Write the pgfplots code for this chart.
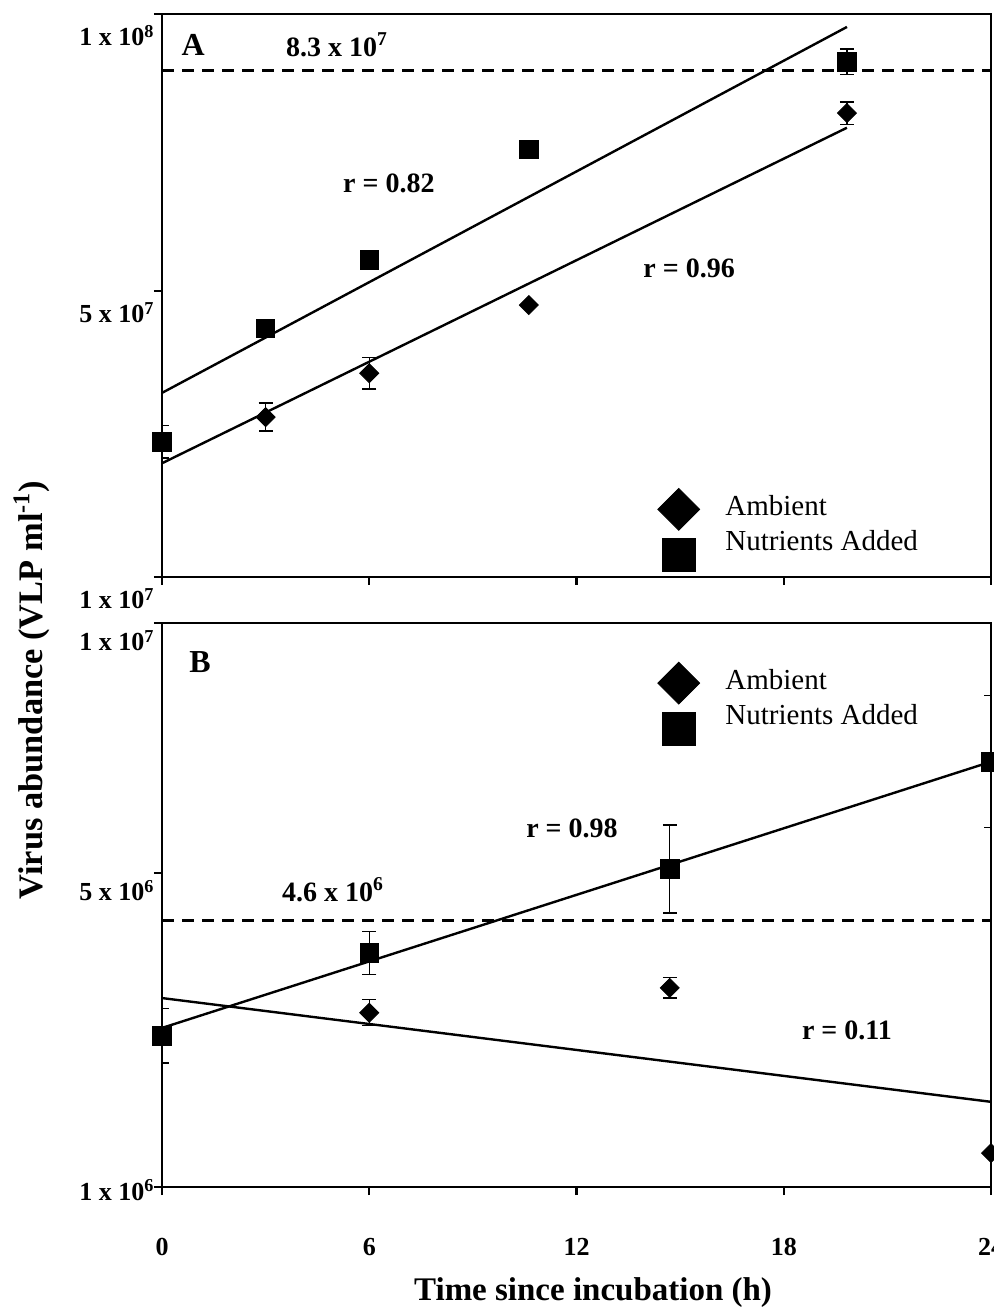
\documentclass[border=0pt]{standalone}
\usepackage{pgfplots}
\pgfplotsset{compat=1.18}
\usepackage{fontspec}
\setmainfont{Liberation Serif}

\newcommand{\sci}[2]{#1 x 10\textsuperscript{#2}}
\newcommand{\fs}[1]{\fontsize{#1}{#1}\selectfont}

\pgfplotsset{
  panel/.style={
    scale only axis, width=414.5pt,
    xmin=0, xmax=24, ymin=0, ymax=10,
    axis line style={line width=1.3pt},
    tick style={line width=1.2pt, black},
    major tick length=4pt,
    tick align=outside,
    tick pos=left,
    xtick={0,6,12,18,24},
    tick label style={font=\fs{13}\bfseries},
    yticklabel style={anchor=base east, inner sep=0pt, xshift=0.5pt, yshift=-16pt},
    legend cell align=left,
    legend style={draw=none, fill=none, font=\fs{14.5}, row sep=2pt},
  },
  errs/.style={
    error bars/y dir=both, error bars/y explicit,
    error bars/error bar style={line width=0.7pt, black},
    error bars/error mark options={rotate=90, line width=0.7pt, mark size=3.5pt, black}},
  amb/.style={only marks, mark=square*, mark size=3.36pt,
    mark options={rotate=45, fill=black, draw=black}, errs, forget plot},
  nut/.style={only marks, mark=square*, mark size=4.6pt,
    mark options={fill=black, draw=black}, errs, forget plot},
  fit/.style={black, line width=1.2pt, forget plot},
  ref/.style={black, line width=1.4pt, dash pattern=on 6pt off 4pt, forget plot},
  legamb/.style={legend image code/.code={%
    \begin{pgfinterruptboundingbox}
    \fill[black] plot[mark=square*, mark size=7.4pt, mark options={rotate=45}] coordinates {(0.3cm,-1.2pt)};
    \end{pgfinterruptboundingbox}
    \path[draw=none, fill=none] (0,-3pt) rectangle (1.05cm,3pt);}},
  legnut/.style={legend image code/.code={%
    \begin{pgfinterruptboundingbox}
    \fill[black] plot[mark=square*, mark size=8.25pt] coordinates {(0.3cm,-6.4pt)};
    \end{pgfinterruptboundingbox}
    \path[draw=none, fill=none] (0,-3pt) rectangle (1.05cm,3pt);}},
}

\begin{document}
\begin{tikzpicture}
\path[use as bounding box] (0,0) rectangle (497pt,653.5pt);

% Panel A
\begin{axis}[panel, at={(81pt,365pt)}, height=281.5pt,
    xticklabels={},
    ytick={0,5.08,10},
    yticklabels={\sci{1}{7}, \sci{5}{7}, \sci{1}{8}},
    legend style={at={(0.595,0.16)}, anchor=north west},
  ]
  \addlegendimage{legamb}
  \addlegendentry{Ambient}
  \addlegendimage{legnut}
  \addlegendentry{Nutrients Added}

  \addplot[ref] coordinates {(0,8.99) (24,8.99)};
  \addplot[fit] coordinates {(0,3.27) (19.83,9.77)};
  \addplot[fit] coordinates {(0,2.02) (19.83,7.98)};

  \addplot[amb] coordinates {
    (3.0,2.84) +- (0,0.25)
    (6.0,3.62) +- (0,0.28)
    (10.62,4.83) +- (0,0)
    (19.83,8.24) +- (0,0.2)
  };
  \addplot[nut] coordinates {
    (0,2.40) +- (0,0.29)
    (3.0,4.42) +- (0,0.12)
    (6.0,5.63) +- (0,0)
    (10.62,7.60) +- (0,0)
    (19.83,9.15) +- (0,0.23)
  };

  \node[font=\fs{16}\bfseries] at (axis cs:0.9,9.45) {A};
  \node[font=\fs{14}\bfseries] at (axis cs:5.07,9.45) {\sci{8.3}{7}};
  \node[font=\fs{14}\bfseries] at (axis cs:6.57,7.0) {r = 0.82};
  \node[font=\fs{14}\bfseries] at (axis cs:15.26,5.49) {r = 0.96};
\end{axis}

% Panel B
\begin{axis}[panel, at={(81pt,60pt)}, height=282pt,
    ytick={0,5.57,10},
    yticklabels={\raisebox{7.5pt}{\sci{1}{6}}, \sci{5}{6}, \sci{1}{7}},
    yticklabel style={yshift=2pt},
    xticklabels={0,6,12,18,24},
    xticklabel style={anchor=base, yshift=-30pt},
    xlabel={Time since incubation (h)},
    xlabel style={at={(axis description cs:0.52,0)}, anchor=base, yshift=-56.5pt, font=\fs{16.5}\bfseries},
    legend style={at={(0.595,0.933)}, anchor=north west},
  ]
  \addlegendimage{legamb}
  \addlegendentry{Ambient}
  \addlegendimage{legnut}
  \addlegendentry{Nutrients Added}

  \addplot[ref] coordinates {(0,4.72) (24,4.72)};
  \addplot[fit] coordinates {(0,2.82) (24,7.54)};
  \addplot[fit] coordinates {(0,3.35) (24,1.51)};

  \addplot[amb] coordinates {
    (6.0,3.09) +- (0,0.23)
    (14.7,3.53) +- (0,0.18)
    (24,0.60) +- (0,0)
  };
  \addplot[nut] coordinates {
    (0,2.68) +- (0,0.48)
    (6.0,4.15) +- (0,0.38)
    (14.7,5.64) +- (0,0.78)
    (24,7.54) +- (0,1.17)
  };

  \node[font=\fs{16}\bfseries] at (axis cs:1.1,9.31) {B};
  \node[font=\fs{14}\bfseries] at (axis cs:4.95,5.27) {\sci{4.6}{6}};
  \node[font=\fs{14}\bfseries] at (axis cs:11.87,6.35) {r = 0.98};
  \node[font=\fs{14}\bfseries] at (axis cs:19.83,2.77) {r = 0.11};
\end{axis}

\node[rotate=90, anchor=base, font=\fs{17.2}\bfseries] at (21pt,308.5pt) {Virus abundance (VLP ml\textsuperscript{-1})};
\end{tikzpicture}
\end{document}
